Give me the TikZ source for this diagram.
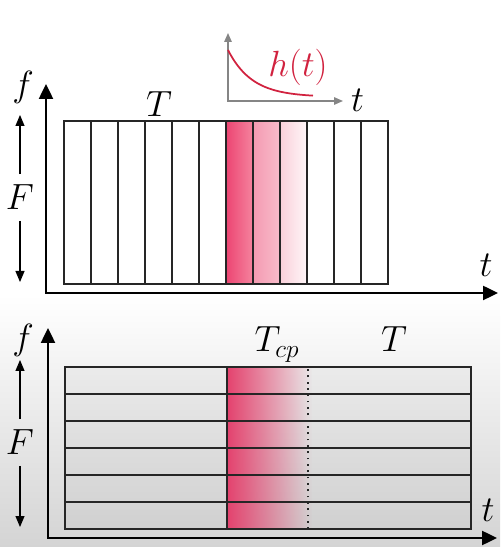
\documentclass[tikz,border=0pt]{standalone}
\usepackage{amsmath}
\usepackage{xcolor}
\definecolor{rosedeep}{HTML}{EC4572}
\definecolor{roseA}{HTML}{F5839E}
\definecolor{roseB}{HTML}{F49AB1}
\definecolor{roseC}{HTML}{F8BCCB}
\definecolor{roseD}{HTML}{FAD0DA}
\definecolor{roseE}{HTML}{FFF6F8}
\definecolor{impred}{HTML}{D1223F}
\definecolor{axisgrey}{HTML}{858585}
\definecolor{panelgrey}{HTML}{D4D4D4}
\usepackage{tikz}
\usetikzlibrary{arrows.meta,positioning,calc,fadings}
\tikzfading[name=fadeeast,left color=transparent!0,right color=transparent!100]
\tikzset{
  >={Triangle[length=3mm,width=2.8mm]},
  axis/.style    ={<->,line width=1.4pt},
  span/.style    ={-{Triangle[length=2.2mm,width=1.8mm]},line width=0.6pt},
  cell/.style    ={draw=black!85,line width=1pt},
  lbl/.style     ={font=\fontsize{20}{22}\selectfont,inner sep=0pt},
  spanlbl/.style ={font=\fontsize{20}{22}\selectfont,inner xsep=0pt,inner ysep=6pt},
  miniaxis/.style={{Triangle[length=1.8mm,width=1.5mm]}-{Triangle[length=1.8mm,width=1.5mm]},
                   draw=axisgrey,line width=0.8pt},
  cpline/.style  ={draw=black!85,line width=1pt,dash pattern=on 1pt off 2.6pt},
}

\begin{document}
\begin{tikzpicture}[x=0.02cm,y=0.02cm]
\useasboundingbox (0,0) rectangle (500,547);
% backdrop of the lower panel
\shade[top color=white,bottom color=panelgrey] (0,0) rectangle (500,252);

% upper panel: slots of length T
\fill[left color=rosedeep,right color=roseA] (226,263) rectangle (253,426);
\fill[left color=roseB,right color=roseC] (253,263) rectangle (280,426);
\fill[left color=roseD,right color=roseE] (280,263) rectangle (307,426);
\foreach \i in {0,...,11}
  \draw[cell] ({64+27*\i},263) rectangle +(27,163);
\coordinate (ytop1) at (46,463);
\coordinate (xend1) at (498,254);
\draw[axis] (ytop1) |- (xend1);
\node[lbl,anchor=base] (f1) at (23,450) {$f$};
\node[lbl,anchor=base] (t1) at (486,270) {$t$};
\node[lbl,anchor=base] (T1) at (159,430) {$T$};
\node[spanlbl,anchor=base] (F1) at (20,337) {$F$};
\coordinate (Fhi1) at (20,432);
\coordinate (Flo1) at (20,265);
\draw[span] (F1.north) -- (Fhi1);
\draw[span] (F1.south) -- (Flo1);

% impulse response inset
\coordinate (htop) at (228,514);
\coordinate (hend) at (343,446);
\draw[miniaxis] (htop) |- (hend);
\draw[impred,line width=1pt] plot[domain=0:85,samples=50] ({228+\x},{450+47*exp(-\x/24)});
\node[lbl,text=impred,anchor=base] (h) at (298,470) {$h(t)$};
\node[lbl] (t2) at (357.5,447) {$t$};

% lower panel: subcarriers with cyclic prefix
\fill[rosedeep,path fading=fadeeast] (227,18) rectangle (312,180);
\fill[black,fill opacity=0.03] (65,18) rectangle (471,180);
\foreach \j in {0,...,5}
  \draw[cell] (65,{18+27*\j}) rectangle +(406,27);
\coordinate (cpbot) at (227,18);
\coordinate (cptop) at (227,180);
\coordinate (symbot) at (308,18);
\coordinate (symtop) at (308,180);
\draw[cell] (cpbot) -- (cptop);
\draw[cpline] (symbot) -- (symtop);
\coordinate (ytop2) at (48,219);
\coordinate (xend2) at (497,9);
\draw[axis] (ytop2) |- (xend2);
\node[lbl,anchor=base] (f2) at (23,197) {$f$};
\node[lbl,anchor=base] (t3) at (488,25) {$t$};
\node[lbl,anchor=base] (Tcp) at (277,195) {$T_{cp}$};
\node[lbl,anchor=base] (T2) at (394,195) {$T$};
\node[spanlbl,anchor=base] (F2) at (20,92) {$F$};
\coordinate (Fhi2) at (20,187);
\coordinate (Flo2) at (20,20);
\draw[span] (F2.north) -- (Fhi2);
\draw[span] (F2.south) -- (Flo2);
\end{tikzpicture}
\end{document}
